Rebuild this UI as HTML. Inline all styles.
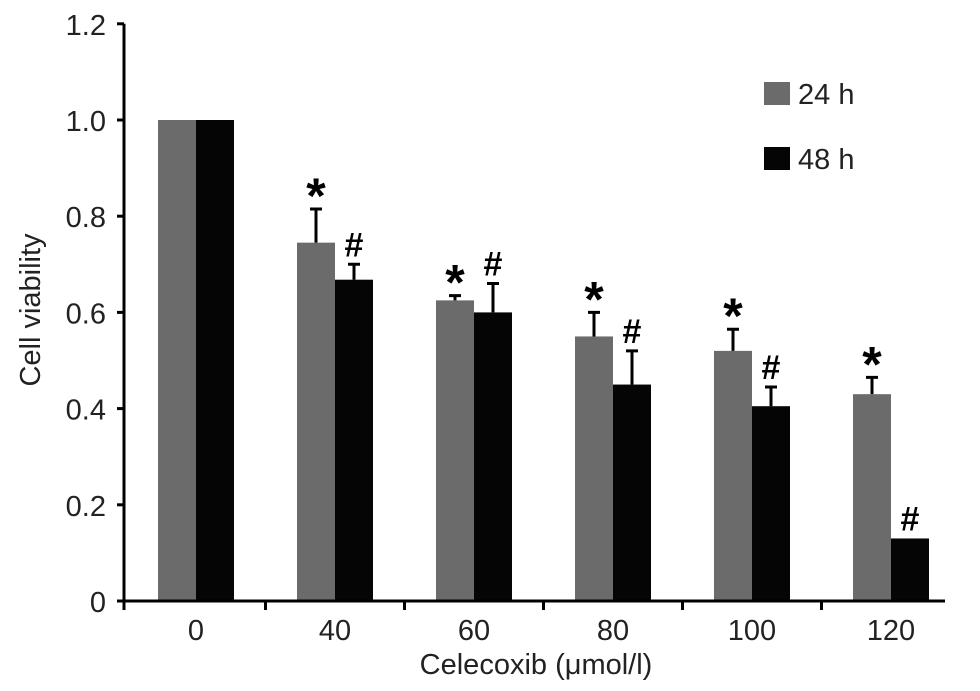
<!DOCTYPE html>
<html><head><meta charset="utf-8"><style>
html,body{margin:0;padding:0;background:#fff;}
svg{display:block;font-family:"Liberation Sans",sans-serif;}
</style></head><body>
<svg id="chart" width="980" height="691" viewBox="0 0 980 691"></svg>
<script>
const categories = ["0","40","60","80","100","120"];
const series24 = [1.0, 0.745, 0.625, 0.55, 0.52, 0.43];
const err24 = [0, 0.07, 0.01, 0.05, 0.045, 0.035];
const series48 = [1.0, 0.668, 0.60, 0.45, 0.405, 0.13];
const err48 = [0, 0.032, 0.06, 0.07, 0.04, 0];
const mark24 = ["", "*", "*", "*", "*", "*"];
const mark48 = ["", "#", "#", "#", "#", "#"];
const yTicks = ["0","0.2","0.4","0.6","0.8","1.0","1.2"];

const svg = document.getElementById('chart');
const NS = 'http://www.w3.org/2000/svg';
const y0 = 601, yScale = 481, xLeft = 124, xRight = 945, groupW = 139, barW = 38, firstCenter = 196;
const y = v => y0 - v * yScale;
const xc = i => firstCenter + i * groupW;
function mk(tag, attrs, text){const e=document.createElementNS(NS,tag);for(const k in attrs)e.setAttribute(k,attrs[k]);if(text!==undefined)e.textContent=text;svg.appendChild(e);return e;}

categories.forEach((c,i)=>{
  const g = mk('rect',{x:xc(i)-barW,y:y(series24[i]),width:barW,height:y0-y(series24[i]),fill:'#6b6b6b'});
  
  
  const b = mk('rect',{x:xc(i),y:y(series48[i]),width:barW,height:y0-y(series48[i]),fill:'#050505'});
  
  
  [[series24,err24,mark24,xc(i)-barW/2],[series48,err48,mark48,xc(i)+barW/2]].forEach(([s,e,m,cx],k)=>{
    if(e[i]>0){
      const top=y(s[i]+e[i]);
      const l=mk('path',{d:`M${cx} ${y(s[i])}V${top}M${cx-6} ${top}H${cx+6}`,stroke:'#000','stroke-width':3,fill:'none'});
      
      
    }
    if(m[i]){
      const top=y(s[i]+e[i]);
      const t=mk('text',{x:cx,y:k===0?top+4:top-8,'text-anchor':'middle','font-size':k===0?50:34,'font-weight':'bold'},m[i]);
      
      
    }
  });
  const tl=mk('text',{x:xc(i),y:640,'text-anchor':'middle','font-size':29,fill:'#222'},c);
  
  
});

const ax=mk('path',{d:`M${xLeft} ${y(1.2)}V${y0}H${xRight}`,stroke:'#000','stroke-width':3,fill:'none'});


yTicks.forEach(t=>{
  const v=parseFloat(t);
  const tk=mk('path',{d:`M${xLeft-7} ${y(v)}H${xLeft}`,stroke:'#000','stroke-width':3});
  
  
  const lb=mk('text',{x:xLeft-18,y:y(v)+11,'text-anchor':'end','font-size':29,fill:'#222'},t);
  
  
});
for(let i=0;i<categories.length;i++){
  const bx=firstCenter-groupW/2+i*groupW;
  const tk=mk('path',{d:`M${i===0?xLeft:bx} ${y0}V${y0+9}`,stroke:'#000','stroke-width':3});
  
  
}
const xt=mk('text',{x:536,y:674,'text-anchor':'middle','font-size':29,fill:'#222'},'Celecoxib (μmol/l)');


const yt=mk('text',{x:0,y:0,'text-anchor':'middle','font-size':29,fill:'#222',transform:'translate(40,310) rotate(-90)'},'Cell viability');



[['#6b6b6b','24 h',82],['#050505','48 h',147]].forEach(([c,t,ly])=>{
  const r=mk('rect',{x:764,y:ly,width:26,height:23,fill:c});
  
  
  const tx=mk('text',{x:798,y:ly+22,'font-size':29,fill:'#222'},t);
  
  
});
</script>
</body></html>
